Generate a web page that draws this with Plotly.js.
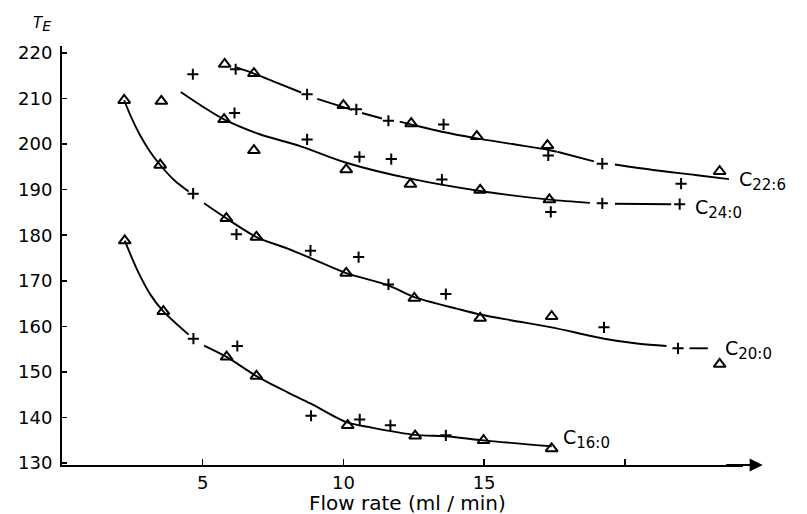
<!DOCTYPE html>
<html>
<head>
<meta charset="utf-8">
<script src="https://cdn.plot.ly/plotly-3.0.1.min.js"></script>
<style>html,body{margin:0;padding:0;background:#fff;}#chart{width:807px;height:514px;}</style>
</head>
<body>
<div id="chart"></div>
<script>
// ---- data ----
// C22:6
const c226TriX = [5.78, 6.82, 10.0, 12.41, 14.74, 17.25, 23.37];
const c226TriY = [217.5, 215.5, 208.5, 204.5, 201.7, 199.7, 194.0];
const c226PlusX = [4.65, 6.17, 8.71, 10.46, 11.6, 13.56, 17.28, 19.2, 22.0];
const c226PlusY = [215.3, 216.4, 210.9, 207.6, 205.1, 204.3, 197.5, 195.7, 191.3];
const c226CurveX = [6.2, 6.8, 7.6, 8.5, null, 9.07, 10.0, 10.3, null, 10.66, 11.37, null, 12.0, 12.4, 13.5, 14.7, 16.0, 17.3, 17.58, null, 17.6, 18.9, null, 19.65, 21.0, 22.5, 23.7];
const c226CurveY = [216.8, 215.5, 213.5, 211.3, null, 209.9, 208.1, 207.5, null, 206.8, 205.6, null, 204.9, 204.3, 202.7, 201.3, 200.0, 198.7, 198.3, null, 198.3, 196.2, null, 195.5, 194.3, 193.2, 192.3];

// C24:0
const c240TriX = [3.53, 5.76, 6.82, 10.1, 12.38, 14.86, 17.32];
const c240TriY = [209.4, 205.4, 198.6, 194.4, 191.2, 189.9, 187.8];
const c240PlusX = [6.13, 8.71, 10.57, 11.7, 13.5, 17.37, 19.2, 21.95];
const c240PlusY = [206.8, 201.0, 197.2, 196.7, 192.2, 185.1, 187.0, 186.8];
const c240CurveX = [4.22, 5.0, 5.76, 7.0, 8.48, 10.1, 12.38, 14.86, 17.32, 18.76, null, 19.65, 21.65];
const c240CurveY = [211.4, 208.2, 205.4, 202.2, 199.5, 195.9, 192.4, 189.7, 187.8, 187.1, null, 186.9, 186.8];

// C20:0
const c200TriX = [2.21, 3.49, 5.84, 6.91, 10.1, 12.52, 14.86, 17.4, 23.37];
const c200TriY = [209.6, 195.4, 183.7, 179.6, 171.7, 166.2, 161.8, 162.2, 151.7];
const c200PlusX = [4.66, 6.2, 8.83, 10.54, 11.6, 13.64, 19.26, 21.89];
const c200PlusY = [189.1, 180.2, 176.6, 175.2, 169.2, 167.1, 159.8, 155.2];
const c200CurveX = [2.21, 2.45, 2.75, 3.1, 3.49, 4.0, 4.5, null, 5.05, 5.84, 6.91, 8.0, 8.83, 10.1, 11.6, 12.52, 14.02, 14.86, 16.0, 17.4, 19.26, 20.5, 21.48, null, 22.3, 22.95];
const c200CurveY = [209.6, 206.0, 202.2, 198.6, 195.4, 192.0, 189.6, null, 187.0, 183.7, 179.6, 177.1, 175.0, 171.7, 169.0, 166.4, 163.9, 162.6, 161.3, 159.8, 157.3, 156.2, 155.7, null, 155.2, 155.2];

// C16:0
const c160TriX = [2.23, 3.6, 5.85, 6.91, 10.15, 12.55, 14.98, 17.4];
const c160TriY = [178.8, 163.3, 153.3, 149.1, 138.3, 136.0, 135.0, 133.2];
const c160PlusX = [4.67, 6.23, 8.85, 10.58, 11.67, 13.64];
const c160PlusY = [157.3, 155.7, 140.4, 139.6, 138.3, 136.1];
const c160CurveX = [2.23, 2.68, 3.16, 3.6, 4.5, null, 5.05, 5.85, 6.91, 8.0, 8.83, 10.1, 11.0, 12.55, 13.64, 14.98, 17.4];
const c160CurveY = [178.8, 172.3, 166.8, 163.3, 158.2, null, 155.8, 153.3, 149.1, 145.6, 143.1, 139.0, 137.8, 136.2, 135.9, 135.0, 133.7];

const seriesMain = ['C', 'C', 'C', 'C'];
const seriesSub = ['22:6', '24:0', '20:0', '16:0'];
const xTickVals = [5, 10, 15, 20];
const xTickText = ['5', '10', '15', ' '];
const yTickVals = [130, 140, 150, 160, 170, 180, 190, 200, 210, 220];
const xTitle = 'Flow rate (ml / min)';

const FONT = 'DejaVu Sans, Liberation Sans, sans-serif';
const series = [
  [c226CurveX, c226CurveY, c226TriX, c226TriY, c226PlusX, c226PlusY],
  [c240CurveX, c240CurveY, c240TriX, c240TriY, c240PlusX, c240PlusY],
  [c200CurveX, c200CurveY, c200TriX, c200TriY, c200PlusX, c200PlusY],
  [c160CurveX, c160CurveY, c160TriX, c160TriY, c160PlusX, c160PlusY]
];
const traces = [];
series.forEach(s => {
  traces.push({x: s[0], y: s[1], mode: 'lines', type: 'scatter', line: {color: '#000', width: 1.9, shape: 'spline', smoothing: 0.8}, connectgaps: false, hoverinfo: 'skip', showlegend: false, cliponaxis: false});
  traces.push({x: s[2], y: s[3], mode: 'markers', type: 'scatter', marker: {symbol: 'triangle-up-open', size: 10.5, color: '#000', line: {color: '#000', width: 2}}, showlegend: false, cliponaxis: false});
  traces.push({x: s[4], y: s[5], mode: 'markers', type: 'scatter', marker: {symbol: 'cross-thin', size: 8, color: '#000', line: {color: '#000', width: 2}}, showlegend: false, cliponaxis: false});
});

const labelPos = [[24.0, 192.0], [22.42, 185.8], [23.5, 154.8], [17.75, 135.2]];
const annotations = seriesMain.map((n, i) => ({
  x: labelPos[i][0], y: labelPos[i][1], xref: 'x', yref: 'y',
  text: n + '<sub><span style="font-size:15px">' + seriesSub[i] + '</span></sub>', showarrow: false,
  xanchor: 'left', yanchor: 'middle', font: {family: FONT, size: 19, color: '#000'}
}));
annotations.push({x: 23.6, y: 129.6, ax: 24.9, ay: 129.6, xref: 'x', yref: 'y', axref: 'x', ayref: 'y', text: '', showarrow: true, arrowhead: 0, arrowwidth: 2, arrowcolor: '#000'});
annotations.push({x: 24.9, y: 129.6, ax: 24.0, ay: 129.6, xref: 'x', yref: 'y', axref: 'x', ayref: 'y', text: '', showarrow: true, arrowhead: 2, arrowsize: 1.3, arrowwidth: 2, arrowcolor: '#000'});
annotations.push({x: 12.26, y: 0, xref: 'x', yref: 'paper', yshift: -38, text: xTitle, showarrow: false, xanchor: 'center', yanchor: 'middle', font: {family: FONT, size: 20, color: '#000'}});
annotations.push({x: 0, y: 1, xref: 'paper', yref: 'paper', xshift: -20, yshift: 22, text: '<i>T</i><sub><span style="font-size:14px"><i>E</i></span></sub>', showarrow: false, xanchor: 'center', yanchor: 'middle', font: {family: FONT, size: 15, color: '#000'}});

const layout = {
  width: 807, height: 514,
  margin: {l: 62, r: 64, t: 46, b: 49},
  paper_bgcolor: '#fff', plot_bgcolor: '#fff',
  showlegend: false,
  font: {family: FONT, color: '#000'},
  xaxis: {range: [0, 24.2], showgrid: false, zeroline: false, showline: true, linecolor: '#000', linewidth: 2,
          ticks: 'inside', ticklen: 6, tickwidth: 1.5, tickcolor: '#000', tickvals: xTickVals, ticktext: xTickText,
          tickfont: {family: FONT, size: 18, color: '#000'}},
  yaxis: {range: [129.6, 221.5], showgrid: false, zeroline: false, showline: true, linecolor: '#000', linewidth: 2,
          ticks: 'inside', ticklen: 5, tickwidth: 1.5, tickcolor: '#000', tickvals: yTickVals, ticklabelstandoff: 4,
          tickfont: {family: FONT, size: 18, color: '#000'}},
  annotations: annotations
};
Plotly.newPlot('chart', traces, layout, {staticPlot: true, displayModeBar: false});
</script>
</body>
</html>
